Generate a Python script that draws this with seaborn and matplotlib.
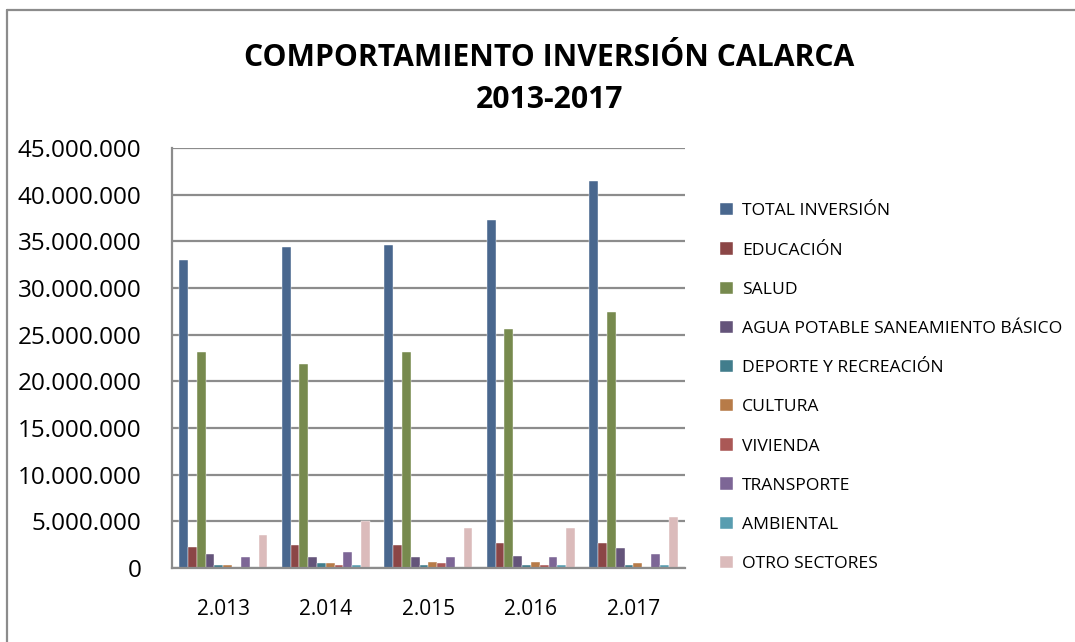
import pandas as pd
import matplotlib.pyplot as plt
import seaborn as sns
from matplotlib.ticker import FuncFormatter, MultipleLocator

# Datos (pesos)
years = ["2.013", "2.014", "2.015", "2.016", "2.017"]
sectors = ["TOTAL INVERSIÓN", "EDUCACIÓN", "SALUD",
           "AGUA POTABLE SANEAMIENTO BÁSICO", "DEPORTE Y RECREACIÓN",
           "CULTURA", "VIVIENDA", "TRANSPORTE", "AMBIENTAL", "OTRO SECTORES"]

total_inversion = [33000000, 34430000, 34640000, 37250000, 41430000]
educacion = [2250000, 2460000, 2460000, 2680000, 2680000]
salud = [23180000, 21820000, 23180000, 25640000, 27430000]
agua = [1480000, 1130000, 1130000, 1300000, 2150000]
deporte = [280000, 490000, 280000, 280000, 280000]
cultura = [280000, 490000, 670000, 670000, 490000]
vivienda = [140000, 320000, 490000, 280000, 140000]
transporte = [1130000, 1690000, 1130000, 1130000, 1510000]
ambiental = [140000, 280000, 140000, 280000, 280000]
otro = [3490000, 5070000, 4260000, 4260000, 5420000]

colors = ["#3D6699", "#973B3A", "#7B9444", "#634E80", "#348598",
          "#C97A35", "#B84B48", "#7C5E9E", "#4AA5BF", "#E0B6B6"]

series = [total_inversion, educacion, salud, agua, deporte,
          cultura, vivienda, transporte, ambiental, otro]
df = pd.DataFrame(
    [(y, s, v[i]) for s, v in zip(sectors, series) for i, y in enumerate(years)],
    columns=["Año", "Sector", "Valor"])

sns.set_style("white")
plt.rcParams["font.family"] = ["Open Sans", "DejaVu Sans"]

fig = plt.figure(figsize=(10.75, 6.42), dpi=100)
ax = fig.add_axes([0.16, 0.1153, 0.477, 0.6542])

sns.barplot(data=df, x="Año", y="Valor", hue="Sector", hue_order=sectors,
            palette=colors, width=0.86, ax=ax, legend=True,
            edgecolor="white", linewidth=0.3, errorbar=None)

ax.set_ylim(0, 45000000)
ax.yaxis.set_major_locator(MultipleLocator(5000000))
ax.yaxis.set_major_formatter(FuncFormatter(lambda v, p: f"{int(v):,}".replace(",", ".")))
ax.grid(axis="y", color="#8C8C8C", linewidth=1.6)
ax.set_axisbelow(True)
ax.set_xlabel("")
ax.set_ylabel("")
for side in ["top", "right"]:
    ax.spines[side].set_visible(False)
for side in ["left", "bottom"]:
    ax.spines[side].set_color("#8C8C8C")
    ax.spines[side].set_linewidth(1.6)
ax.tick_params(axis="y", labelsize=17.5, length=0, pad=22, labelcolor="black")
ax.tick_params(axis="x", labelsize=15, length=0, pad=22, labelcolor="black")

handles, labels = ax.get_legend_handles_labels()
ax.legend_.remove()
fig.legend(handles, labels, loc="upper left", bbox_to_anchor=(0.6555, 0.708),
           frameon=False, fontsize=12.6, handlelength=0.7, handleheight=0.7,
           handletextpad=0.55, labelspacing=1.31, labelcolor="black")

fig.text(0.511, 0.910, "COMPORTAMIENTO INVERSIÓN CALARCA", ha="center", va="center",
         fontsize=21.7, fontweight="bold", color="black")
fig.text(0.511, 0.8445, "2013-2017", ha="center", va="center",
         fontsize=21.7, fontweight="bold", color="black")

# marco del area del grafico
fig.add_artist(plt.Line2D([0.0065, 1.0], [0.984, 0.984], color="#8C8C8C", lw=1.6))
fig.add_artist(plt.Line2D([0.0065, 0.0065], [0.0, 0.984], color="#8C8C8C", lw=1.6))

fig.savefig("out.png", dpi=100)
